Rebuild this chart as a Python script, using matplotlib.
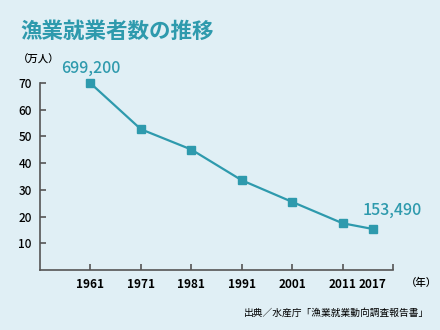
import matplotlib
matplotlib.use("Agg")
import matplotlib.pyplot as plt
from matplotlib.ticker import FixedLocator

plt.rcParams['font.family'] = ['Noto Sans CJK JP', 'DejaVu Sans']

years = [1961, 1971, 1981, 1991, 2001, 2011, 2017]
workers = [69.92, 52.7, 45.1, 33.6, 25.5, 17.5, 15.349]  # 万人
first_label = "699,200"
last_label = "153,490"
y_ticks = [10, 20, 30, 40, 50, 60, 70]
x_tick_years = [1961, 1971, 1981, 1991, 2001, 2011]

bg = '#e0eff5'
teal = '#2e9aad'
axis_col = '#555555'

fig = plt.figure(figsize=(4.4, 3.3), dpi=100, facecolor=bg)
ax = fig.add_axes([0.0909, 0.1818, 0.8023, 0.5667], facecolor=bg)

ax.plot(years, workers, color=teal, lw=1.6, marker='s', ms=5.8,
        mec=teal, mfc=teal, zorder=3, clip_on=False)

ax.set_xlim(1951, 2021)
ax.set_ylim(0, 70)

for s in ['top', 'right']:
    ax.spines[s].set_visible(False)
for s in ['left', 'bottom']:
    ax.spines[s].set_color(axis_col)
    ax.spines[s].set_linewidth(1.2)

ax.set_yticks(y_ticks)
ax.set_yticklabels([str(v) for v in y_ticks], fontsize=8.5, fontweight='medium')
ax.tick_params(axis='y', direction='in', length=4, width=1.2, color=axis_col, pad=6)

ax.set_xticks(x_tick_years + [2021])
ax.set_xticklabels([str(v) for v in x_tick_years] + [''], fontsize=8.5, fontweight='bold')
ax.xaxis.set_minor_locator(FixedLocator([2017]))
ax.set_xticks([2017], labels=['2017'], minor=True)
ax.tick_params(axis='x', which='major', direction='in', length=4, width=1.2, color=axis_col, pad=6)
ax.tick_params(axis='x', which='minor', direction='in', length=0, pad=6)
for t in ax.get_xticklabels(minor=True):
    t.set_fontsize(8.5)
    t.set_fontweight('bold')

ax.annotate(first_label, (years[0], workers[0]), xytext=(0, 4.5), textcoords='offset points',
            ha='center', va='bottom', color=teal, fontsize=11.5, fontweight='medium')
ax.annotate(last_label, (years[-1], workers[-1]), xytext=(14, 7), textcoords='offset points',
            ha='center', va='bottom', color=teal, fontsize=11.5, fontweight='medium')

fig.text(20/440, 1-31/330, '漁業就業者数の推移', color=teal, fontsize=15.5,
         fontweight='bold', ha='left', va='center')
fig.text(18/440, 1-60/330, '（万人）', fontsize=7.5, ha='left', va='center', fontweight='medium')
fig.text(406/440, 1-283/330, '（年）', fontsize=7.5, ha='left', va='center', fontweight='medium')
fig.text(429/440, 1-313/330, '出典／水産庁「漁業就業動向調査報告書」', fontsize=7,
         ha='right', va='center')

fig.savefig('out.png', dpi=100, facecolor=bg)
